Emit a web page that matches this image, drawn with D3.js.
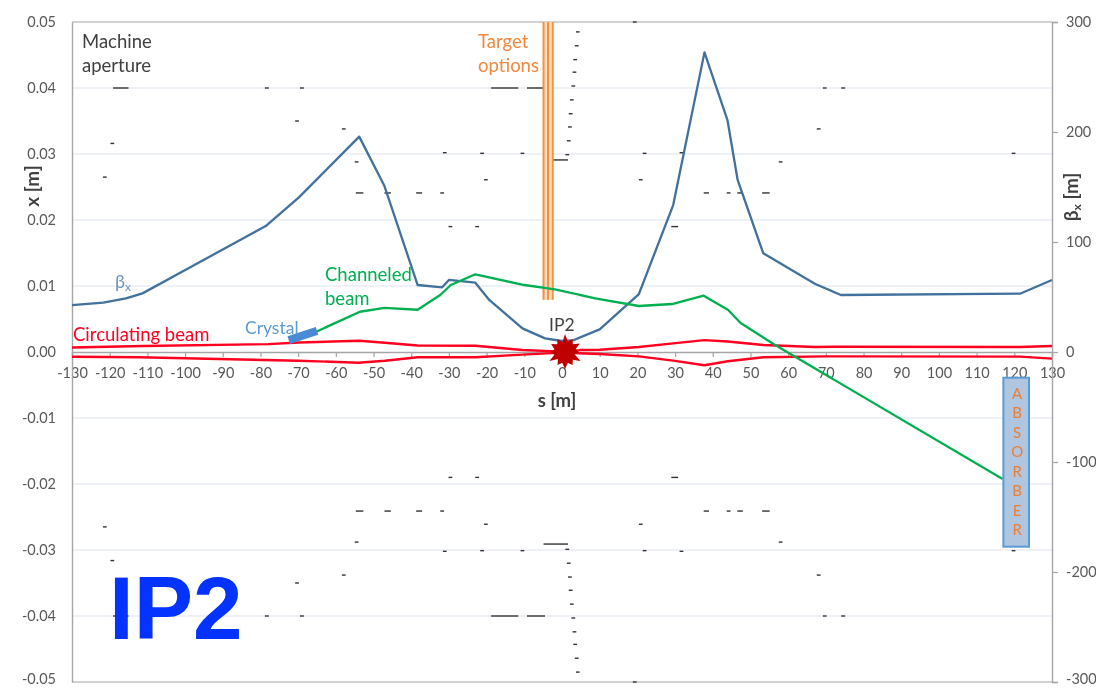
<!DOCTYPE html>
<html>
<head>
<meta charset="utf-8">
<script src="https://cdn.jsdelivr.net/npm/d3@7"></script>
<style>
html, body { margin: 0; padding: 0; background: #fff; overflow: hidden; }
svg { display: block; }
text { font-family: Lato, "Open Sans", sans-serif; }
.soft { filter: blur(0.45px); }
</style>
</head>
<body>
<div id="chart"></div>
<script>
//beta function, s [m] and beta_x [m]
var betaS = [-130, -121.7, -115.7, -111.3, -78.6, -69.8, -53.8, -47.1, -38.3, -31.8, -30, -23, -19.3, -10.5, -4.5, 0, 2.8, 10, 20.4, 29.5, 37.8, 43.9, 46.6, 53.4, 67.2, 74, 121.5, 130];
var betaX = [42.7, 44.8, 48.8, 53.3, 114.5, 140.6, 195.8, 150.9, 60.9, 58.8, 65.5, 63, 47.3, 21.5, 12.4, 10, 10.5, 20.6, 52.7, 133.6, 272.4, 210.9, 156.4, 89.7, 61.8, 51.8, 53, 65.5];

//channeled beam, from the crystal to the absorber
var channeledS = [-65.2, -53.6, -47.1, -38.3, -32.3, -29.5, -23, -10, -3.7, -1.9, 8.8, 20.4, 29.2, 37.6, 44.1, 47.3, 56.1, 116.9];
var channeledX = [0.00308, 0.0061, 0.0067, 0.0064, 0.00864, 0.01015, 0.01177, 0.01015, 0.00965, 0.0095, 0.00813, 0.00697, 0.00727, 0.00853, 0.00636, 0.00444, 0.00121, -0.01924];

//circulating beam envelope
var upperS = [-130, -111, -78, -69.8, -53.8, -47, -38.3, -23, -10.5, 0, 5, 10, 20.4, 29.5, 37.8, 44, 53.4, 67, 74, 121.5, 130];
var upperX = [0.00068, 0.0009, 0.0012, 0.00144, 0.0017, 0.0014, 0.00098, 0.00095, 0.0003, 0.00005, 0.0003, 0.00035, 0.00075, 0.0013, 0.0018, 0.0016, 0.00106, 0.00076, 0.0008, 0.00076, 0.0009];
var lowerS = [-130, -112, -70, -54, -47, -38.3, -23, -10.5, 0, 10, 20.4, 29.5, 37.8, 44, 53.4, 70, 121.5, 130];
var lowerX = [-0.00071, -0.0008, -0.00132, -0.00162, -0.00132, -0.0008, -0.0008, -0.0004, -0.0001, -0.0003, -0.00066, -0.0013, -0.002, -0.0014, -0.0008, -0.00066, -0.0007, -0.001];

//machine aperture, drawn mirrored on both sides of x = 0
//[s, x] small marks
var apertureDots = [
	[-78.3, 0.04], [-69, 0.04], [-70.3, 0.035], [-57.9, 0.0338], [-119.3, 0.0316], [-121.3, 0.0265],
	[-54.5, 0.0288], [-31.8, 0.0241], [-29.6, 0.019], [-22.5, 0.019], [-31.1, 0.0302], [-21.2, 0.0301],
	[-10.5, 0.0301], [-20.2, 0.0261], [19.3, 0.05], [21.9, 0.0301], [31.7, 0.0302], [20.9, 0.0261],
	[44.2, 0.0241], [58, 0.0288], [68.1, 0.0338], [69.7, 0.04], [74.6, 0.04], [119.8, 0.0301],
	[4.2, 0.0485], [3.9, 0.0464], [3.5, 0.0443], [3.3, 0.0424], [3, 0.0403], [2.6, 0.0382],
	[2.3, 0.0361], [2.1, 0.0341], [1.8, 0.032], [1.4, 0.0299]
];
//[s start, s end, x] longer bars
var apertureBars = [
	[-119.1, -115, 0.04], [-18.8, -11.6, 0.04], [-9.3, -4.5, 0.04],
	[-54.7, -52.7, 0.0241], [-47.1, -45.4, 0.0241], [-38.7, -37.1, 0.0241],
	[-4.9, 1.6, 0.0291], [29, 30.8, 0.019], [37.6, 39, 0.0241], [46.5, 48, 0.0241], [53.1, 55.1, 0.0241]
];

var crystalS = [-72.5, -65];
var crystalX = [0.0018, 0.0032];
var targetS = [-4.9, -3.7, -2.45];
var targetX = [0.0079, 0.05];
var absorberS = [117.1, 123.9];
var absorberX = [-0.0039, -0.0295];
var absorberLetters = ["A", "B", "S", "O", "R", "B", "E", "R"];

var sTicks = d3.range(-130, 131, 10);
var xTicks = [0.05, 0.04, 0.03, 0.02, 0.01, 0, -0.01, -0.02, -0.03, -0.04, -0.05];
var betaTicks = [300, 200, 100, 0, -100, -200, -300];

var starRadii = [18, 11, 15, 11, 17, 11, 14, 10, 18, 11, 15, 11, 17, 11, 15, 10, 18, 11, 14, 11, 16, 11, 15, 10];

var width = 1096;
var height = 688;
var left = 72, right = 1052, top_ = 22, bottom = 682;
var labelColor = "#595959";
var axisColor = "#a6a6a6";
var gridColor = "#e8eef6";
var betaColor = "#41719c";
var greenColor = "#00b050";
var redColor = "#ff0020";
var orange = "#ed7d31";
var crystalColor = "#4a8ad4";

var sScale = d3.scaleLinear().domain([-130, 130]).range([left, right]);
var xScale = d3.scaleLinear().domain([-0.05, 0.05]).range([bottom, top_]);
var betaScale = d3.scaleLinear().domain([-300, 300]).range([bottom, top_]);

var svg = d3.select("#chart").append("svg")
.attr("width", width)
.attr("height", height);

var chart = svg.append("g").attr("class", "soft");

//grid
chart.append("g").selectAll("line")
.data(xTicks.filter(function(d){ return d !== 0 && Math.abs(d) < 0.05; }))
.enter().append("line")
.attr("x1", left).attr("x2", right)
.attr("y1", function(d){ return xScale(d); })
.attr("y2", function(d){ return xScale(d); })
.attr("stroke", gridColor)
.attr("stroke-width", 1.5);

//frame top and bottom
[0.05, -0.05].forEach(function(d){
	chart.append("line")
	.attr("x1", left).attr("x2", right)
	.attr("y1", xScale(d)).attr("y2", xScale(d))
	.attr("stroke", axisColor)
	.attr("stroke-width", 1.2);
});

//axes, the reference uses a plain hyphen for the minus sign
var sAxis = chart.append("g")
.attr("transform", "translate(0," + xScale(0) + ")")
.call(d3.axisBottom(sScale).tickValues(sTicks).tickSize(5).tickPadding(11).tickFormat(function(d){ return String(d); }));

var xAxis = chart.append("g")
.attr("transform", "translate(" + left + ",0)")
.call(d3.axisLeft(xScale).tickValues(xTicks).tickSize(0).tickPadding(16).tickFormat(function(d){ return d.toFixed(2); }));

var betaAxis = chart.append("g")
.attr("transform", "translate(" + right + ",0)")
.call(d3.axisRight(betaScale).tickValues(betaTicks).tickSize(6).tickPadding(8).tickFormat(function(d){ return String(d); }));

[sAxis, xAxis, betaAxis].forEach(function(a){
	a.selectAll("path").attr("stroke", axisColor).attr("stroke-width", 1.4);
	a.selectAll("line").attr("stroke", axisColor).attr("stroke-width", 1.2);
	a.selectAll("text")
	.attr("fill", labelColor)
	.style("font-size", "14.5px")
	.style("font-family", "Lato, sans-serif");
});

//lowest labels would touch the page edge
xAxis.selectAll("text").filter(function(d){ return d === -0.05; }).attr("dy", "0.12em");
betaAxis.selectAll("text").filter(function(d){ return d === -300; }).attr("dy", "0.12em");

//axis titles
chart.append("text")
.attr("transform", "translate(39,186) rotate(-90)")
.attr("text-anchor", "middle")
.attr("fill", "#404040")
.style("font-size", "19px").style("font-weight", "bold")
.text("x [m]");

var betaTitle = chart.append("text")
.attr("transform", "translate(1078,197) rotate(-90)")
.attr("text-anchor", "middle")
.attr("fill", "#404040")
.style("font-size", "19px").style("font-weight", "bold");
betaTitle.append("tspan").text("β");
betaTitle.append("tspan").attr("dy", 3).style("font-size", "12px").text("x");
betaTitle.append("tspan").attr("dy", -3).text(" [m]");

chart.append("text")
.attr("x", 557).attr("y", 407)
.attr("text-anchor", "middle")
.attr("fill", "#404040")
.style("font-size", "18.5px").style("font-weight", "bold")
.text("s [m]");

//aperture marks
var apertureG = chart.append("g").attr("stroke", "#333").attr("stroke-width", 1.4);
[1, -1].forEach(function(sign){
	apertureG.append("g").selectAll("line")
	.data(apertureDots)
	.enter().append("line")
	.attr("x1", function(d){ return sScale(d[0] - 0.5); })
	.attr("x2", function(d){ return sScale(d[0] + 0.5); })
	.attr("y1", function(d){ return xScale(sign * d[1]); })
	.attr("y2", function(d){ return xScale(sign * d[1]); });

	apertureG.append("g").selectAll("line")
	.data(apertureBars)
	.enter().append("line")
	.attr("x1", function(d){ return sScale(d[0]); })
	.attr("x2", function(d){ return sScale(d[1]); })
	.attr("y1", function(d){ return xScale(sign * d[2]); })
	.attr("y2", function(d){ return xScale(sign * d[2]); });
});

//target options
chart.append("rect")
.attr("x", sScale(targetS[0])).attr("width", sScale(targetS[2]) - sScale(targetS[0]))
.attr("y", xScale(targetX[1])).attr("height", xScale(targetX[0]) - xScale(targetX[1]))
.attr("fill", "#fbdcc2");
chart.append("g").selectAll("line")
.data(targetS)
.enter().append("line")
.attr("x1", function(d){ return sScale(d); })
.attr("x2", function(d){ return sScale(d); })
.attr("y1", xScale(targetX[1])).attr("y2", xScale(targetX[0]))
.attr("stroke", "#f5923e")
.attr("stroke-width", 2);

//curves
function drawCurve(sValues, yValues, yScale, color, strokeWidth) {
	var line = d3.line()
	.x(function(d){ return sScale(d[0]); })
	.y(function(d){ return yScale(d[1]); });

	chart.append("path")
	.attr("d", line(d3.zip(sValues, yValues)))
	.attr("fill", "none")
	.attr("stroke", color)
	.attr("stroke-width", strokeWidth)
	.attr("stroke-linejoin", "round");
}

drawCurve(betaS, betaX, betaScale, betaColor, 2.3);
drawCurve(upperS, upperX, xScale, redColor, 2.4);
drawCurve(lowerS, lowerX, xScale, redColor, 2.4);
drawCurve(channeledS, channeledX, xScale, greenColor, 2.3);

//crystal
chart.append("line")
.attr("x1", sScale(crystalS[0])).attr("x2", sScale(crystalS[1]))
.attr("y1", xScale(crystalX[0])).attr("y2", xScale(crystalX[1]))
.attr("stroke", crystalColor)
.attr("stroke-width", 8);

//absorber
chart.append("rect")
.attr("x", sScale(absorberS[0])).attr("width", sScale(absorberS[1]) - sScale(absorberS[0]))
.attr("y", xScale(absorberX[0])).attr("height", xScale(absorberX[1]) - xScale(absorberX[0]))
.attr("fill", "#afc5e0")
.attr("stroke", "#5b9bd5")
.attr("stroke-width", 2);

var letterScale = d3.scalePoint()
.domain(d3.range(absorberLetters.length))
.range([xScale(absorberX[0]) + 16, xScale(absorberX[1]) - 17]);

chart.append("g").selectAll("text")
.data(absorberLetters)
.enter().append("text")
.attr("x", d3.mean(absorberS.map(sScale)) + 1)
.attr("y", function(d, i){ return letterScale(i); })
.attr("dy", "0.35em")
.attr("text-anchor", "middle")
.attr("fill", orange)
.style("font-size", "15px")
.text(function(d){ return d; });

//interaction point burst
var burst = d3.lineRadial()
.angle(function(d, i){ return i / starRadii.length * 2 * Math.PI; })
.radius(function(d){ return d; })
.curve(d3.curveLinearClosed);

chart.append("path")
.attr("transform", "translate(" + sScale(0.8) + "," + xScale(0) + ")")
.attr("d", burst(starRadii))
.attr("fill", "#c00000");

//annotations
function note(px, py, str, color, size) {
	chart.append("text")
	.attr("x", px).attr("y", py)
	.attr("fill", color)
	.style("font-size", size + "px")
	.text(str);
}

note(82, 48, "Machine", "#404040", 18.5);
note(82, 72, "aperture", "#404040", 18.5);
note(478, 48, "Target", "#f0883e", 18.5);
note(478, 72, "options", "#f0883e", 18.5);
note(325, 281, "Channeled", "#00b050", 18.5);
note(325, 305, "beam", "#00b050", 18.5);
note(245, 334, "Crystal", "#5b9bd5", 17.5);
note(73, 341, "Circulating beam", "#ff0020", 18.5);
note(549, 331, "IP2", "#404040", 17.5);

var betaNote = chart.append("text")
.attr("x", 115).attr("y", 288)
.attr("fill", "#6f93b8")
.style("font-size", "18px");
betaNote.append("tspan").text("β");
betaNote.append("tspan").attr("dy", 3).style("font-size", "12px").text("x");

//big label stays sharp
svg.append("text")
.attr("x", 109).attr("y", 639)
.attr("fill", "#0433ff")
.style("font-family", "'Liberation Sans', Arial, sans-serif")
.style("font-weight", "bold")
.style("font-size", "89px")
.text("IP2");
</script>
</body>
</html>
